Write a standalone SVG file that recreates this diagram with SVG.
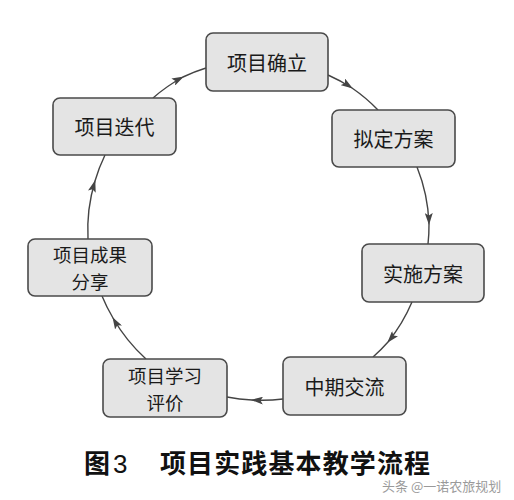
<svg xmlns="http://www.w3.org/2000/svg" width="514" height="500" viewBox="0 0 514 500">
<style>
.box{fill:#e4e4e4;stroke:#4a4a4a;stroke-width:1.6}
.lbl{font-family:"Noto Sans CJK SC","Noto Sans",sans-serif;font-size:20px;fill:#1a1a1a;text-anchor:middle;dominant-baseline:central}
.two{font-size:18.5px}
.con{fill:none;stroke:#444;stroke-width:1.4;marker-mid:url(#arr)}
.cap{font-family:"Noto Sans CJK SC","Liberation Sans",sans-serif;font-size:26px;font-weight:bold;fill:#111}
.wm{font-family:"Noto Sans CJK SC",sans-serif;font-size:13px;fill:#9a9a9a}
</style>
<defs>
<marker id="arr" markerWidth="12" markerHeight="8" refX="11" refY="4" orient="auto" markerUnits="userSpaceOnUse">
<path d="M0,0 L12,4 L0,8 L2.5,4 z" fill="#444"/>
</marker>
</defs>
<rect width="514" height="500" fill="#ffffff"/>
<g id="connectors">
<path class="con" d="M328,75 A168,168 0 0 1 352,88 A168,168 0 0 1 378,110"/>
<path class="con" d="M417,167 A168,168 0 0 1 429,224 A168,168 0 0 1 428,244"/>
<path class="con" d="M412,302 A168,168 0 0 1 388,342 A168,168 0 0 1 373,357"/>
<path class="con" d="M283,399 A168,168 0 0 1 252,400 A168,168 0 0 1 227,397"/>
<path class="con" d="M146,359 A168,168 0 0 1 113,318 A168,168 0 0 1 102,296"/>
<path class="con" d="M88,239 A168,168 0 0 1 95,181 A168,168 0 0 1 105,155"/>
<path class="con" d="M153,98 A168,168 0 0 1 183,77 A168,168 0 0 1 206,68"/>
</g>
<g id="n1"><rect class="box" x="206" y="33" width="122" height="58" rx="7"/><text class="lbl" x="267" y="62">项目确立</text></g>
<g id="n2"><rect class="box" x="332" y="110" width="123" height="57" rx="7"/><text class="lbl" x="393.5" y="138.5">拟定方案</text></g>
<g id="n3"><rect class="box" x="362" y="244" width="122" height="58" rx="7"/><text class="lbl" x="423" y="273">实施方案</text></g>
<g id="n4"><rect class="box" x="283" y="357" width="123" height="58" rx="7"/><text class="lbl" x="344.5" y="386">中期交流</text></g>
<g id="n5"><rect class="box" x="103" y="359" width="124" height="58" rx="7"/><text class="lbl two" x="165" y="374.5">项目学习</text><text class="lbl two" x="165" y="401.5">评价</text></g>
<g id="n6"><rect class="box" x="28" y="239" width="124" height="57" rx="7"/><text class="lbl two" x="90" y="254">项目成果</text><text class="lbl two" x="90" y="281">分享</text></g>
<g id="n7"><rect class="box" x="53" y="98" width="123" height="57" rx="7"/><text class="lbl" x="114.5" y="126.5">项目迭代</text></g>
<g id="caption">
<text class="cap" x="84" y="473">图</text>
<text class="cap" x="113" y="473" style="font-family:'Liberation Sans',sans-serif;font-weight:normal">3</text>
<text class="cap" x="160" y="473" textLength="270" lengthAdjust="spacing">项目实践基本教学流程</text>
</g>
<text class="wm" x="382" y="491">头条 @一诺农旅规划</text>
</svg>
